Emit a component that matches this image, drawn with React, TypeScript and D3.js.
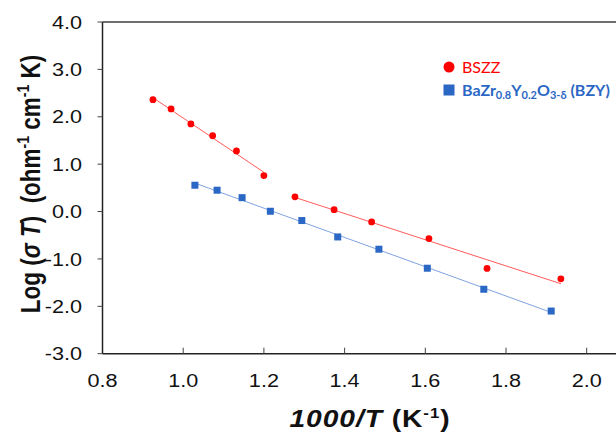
import React from 'react';
import * as d3 from 'd3';

// 1000/T (K^-1) and Log(sigma T)
const bszzX = [0.925, 0.970, 1.019, 1.073, 1.132, 1.200, 1.277, 1.374, 1.467, 1.609, 1.753, 1.936];
const bszzY = [2.36, 2.165, 1.85, 1.60, 1.28, 0.76, 0.31, 0.04, -0.22, -0.57, -1.20, -1.42];
// BSZZ is fitted in two regimes: first 6 points, then the rest
const bszzSplit = 6;

const bzyX = [1.029, 1.084, 1.146, 1.216, 1.294, 1.383, 1.485, 1.605, 1.745, 1.912];
const bzyY = [0.555, 0.45, 0.293, 0.006, -0.19, -0.536, -0.795, -1.196, -1.64, -2.10];

const xTicks = [0.8, 1.0, 1.2, 1.4, 1.6, 1.8, 2.0];
const yTicks = [4, 3, 2, 1, 0, -1, -2, -3];

const W = 616;
const H = 435;
const left = 102.5;
const top = 22;
const bottom = 353.7;

const RED = '#ff0000';
const BLUE = '#2b67c4';

// least squares line over a set of points
function fit(xs: number[], ys: number[]) {
  const mx = d3.mean(xs)!;
  const my = d3.mean(ys)!;
  let num = 0;
  let den = 0;
  xs.forEach((x, i) => {
    num += (x - mx) * (ys[i] - my);
    den += (x - mx) * (x - mx);
  });
  const b = num / den;
  const a = my - b * mx;
  const x0 = d3.min(xs)!;
  const x1 = d3.max(xs)!;
  return [
    [x0, a + b * x0],
    [x1, a + b * x1],
  ] as [number, number][];
}

export default function App() {
  const x = d3.scaleLinear().domain([0.8, 2.2]).range([left, left + 403.5 * 1.4]);
  const y = d3.scaleLinear().domain([-3, 4]).range([bottom, top]);
  const line = d3
    .line<[number, number]>()
    .x((d) => x(d[0]))
    .y((d) => y(d[1]));

  const fits = [
    { pts: fit(bszzX.slice(0, bszzSplit), bszzY.slice(0, bszzSplit)), color: '#ff5a5a' },
    { pts: fit(bszzX.slice(bszzSplit), bszzY.slice(bszzSplit)), color: '#ff5a5a' },
    { pts: fit(bzyX, bzyY), color: '#7fa3e0' },
  ];

  const font = 'Arial, "Liberation Sans", sans-serif';
  const legendFont = 'Lato, "Open Sans", sans-serif';
  const fmt = d3.format('.1f');
  // the original figure is a bit stretched sideways
  const sx = 1.17;

  return (
    <svg
      width={W}
      height={H}
      style={{ position: 'absolute', left: 0, top: 0, background: '#fff' }}
      fontFamily={font}
    >
      {/* fit lines */}
      {fits.map((f, i) => (
        <path key={i} d={line(f.pts)!} fill="none" stroke={f.color} strokeWidth={1} />
      ))}

      {/* data */}
      {bszzX.map((v, i) => (
        <circle key={'r' + i} cx={x(v)} cy={y(bszzY[i])} r={3.4} fill={RED} />
      ))}
      {bzyX.map((v, i) => (
        <rect key={'b' + i} x={x(v) - 3.5} y={y(bzyY[i]) - 3.5} width={7} height={7} fill={BLUE} />
      ))}

      {/* frame */}
      <line x1={left} x2={W} y1={top} y2={top} stroke="#6f6f6f" strokeWidth={2} />
      <line x1={left} x2={left} y1={top} y2={bottom} stroke="#222" strokeWidth={1.5} />
      <line x1={left} x2={W} y1={bottom} y2={bottom} stroke="#222" strokeWidth={1.5} />

      {/* y axis */}
      {yTicks.map((t) => (
        <g key={'y' + t}>
          <line x1={left - 5} x2={left} y1={y(t)} y2={y(t)} stroke="#444" strokeWidth={1} />
          <text
            transform={`translate(82,${y(t)}) scale(${sx},1)`}
            dy="0.36em"
            textAnchor="end"
            fontSize={18.5}
            fill="#111"
          >
            {fmt(t).replace('−', '-')}
          </text>
        </g>
      ))}

      {/* x axis */}
      {xTicks.map((t) => (
        <g key={'x' + t}>
          {t > 0.8 && (
            <line x1={x(t)} x2={x(t)} y1={bottom - 6} y2={bottom} stroke="#444" strokeWidth={1} />
          )}
          <text
            transform={`translate(${x(t)},380) scale(${sx},1)`}
            dy="0.36em"
            textAnchor="middle"
            fontSize={18.5}
            fill="#111"
          >
            {fmt(t)}
          </text>
        </g>
      ))}

      {/* axis titles */}
      <text
        transform={`translate(370,427) scale(1.2,1)`}
        textAnchor="middle"
        fontSize={23.5}
        fontWeight="bold"
        letterSpacing={0.8}
        fill="#111"
      >
        <tspan fontStyle="italic">1000/T</tspan>
        <tspan> (K</tspan>
        <tspan fontSize={14} dy={-9}>-1</tspan>
        <tspan dy={9}>)</tspan>
      </text>
      <text
        transform={`translate(40,184) scale(1.2,1) rotate(-90)`}
        textAnchor="middle"
        fontSize={22.5}
        fontWeight="bold"
        fill="#111"
        style={{ whiteSpace: 'pre' }}
      >
        <tspan>Log (</tspan>
        <tspan fontStyle="italic">σ T</tspan>
        <tspan>{')  (ohm'}</tspan>
        <tspan fontSize={14} dy={-9}>-1</tspan>
        <tspan dy={9}> cm</tspan>
        <tspan fontSize={14} dy={-9}>-1</tspan>
        <tspan dy={9}> K)</tspan>
      </text>

      {/* legend */}
      <circle cx={449} cy={67} r={5.5} fill={RED} />
      <text x={462} y={73} fontFamily={legendFont} fontSize={16} fill={RED}>
        BSZZ
      </text>
      <rect x={443.5} y={84.5} width={11} height={11} fill={BLUE} />
      <text x={462} y={96} fontFamily={legendFont} fontSize={16} fontWeight="bold" fill={BLUE}>
        <tspan>BaZr</tspan>
        <tspan fontSize={11} dy={3}>0.8</tspan>
        <tspan dy={-3}>Y</tspan>
        <tspan fontSize={11} dy={3}>0.2</tspan>
        <tspan dy={-3}>O</tspan>
        <tspan fontSize={11} dy={3}>3-δ</tspan>
        <tspan dy={-3}> (BZY)</tspan>
      </text>
    </svg>
  );
}
